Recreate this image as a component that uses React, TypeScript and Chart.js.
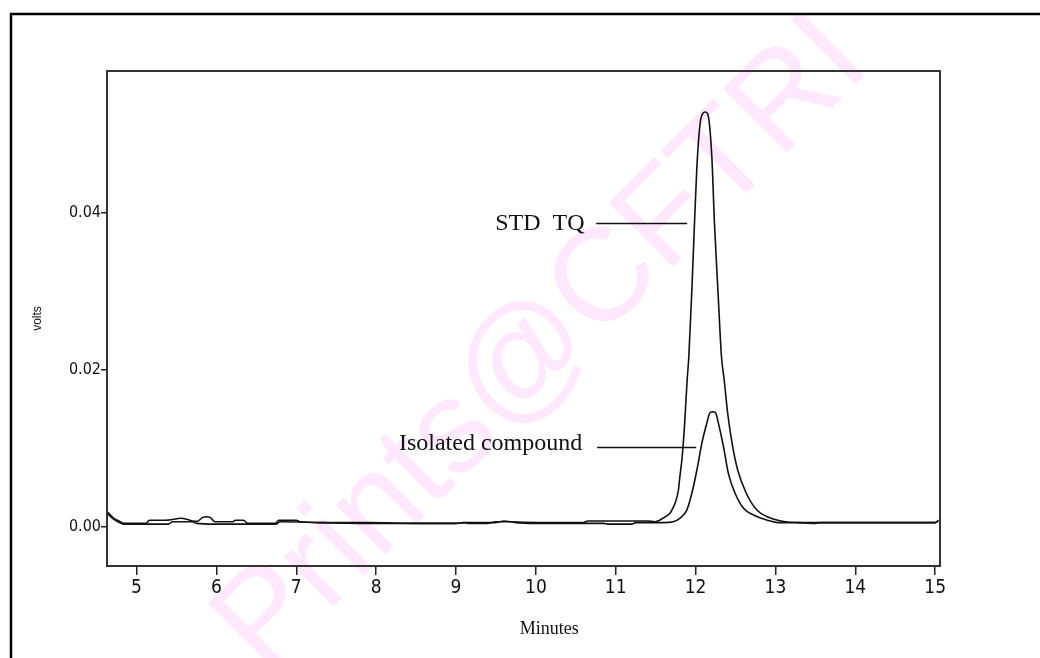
import { useEffect, useRef } from "react";
import { Chart, registerables } from "chart.js";

Chart.register(...registerables);

// ---- data (minutes / volts) ----
const stdTimes = [
  4.63, 4.67, 4.72, 4.78, 4.84, 5.0, 5.12, 5.16, 5.37, 5.45, 5.55, 5.64, 5.7, 5.76, 5.82, 5.87, 5.93, 5.98,
  6.2, 6.24, 6.34, 6.39, 6.74, 6.78, 7.0, 7.05, 7.3, 7.9, 8.5, 9.0, 9.1, 9.5, 9.6, 9.7, 10.0, 10.6, 10.65,
  10.9, 11.2, 11.4, 11.49, 11.594, 11.681, 11.703, 11.744, 11.785, 11.798, 11.832, 11.863, 11.894, 11.915,
  11.953, 11.986, 12.016, 12.057, 12.09, 12.12, 12.15, 12.203, 12.236, 12.279, 12.324, 12.358, 12.401,
  12.464, 12.527, 12.633, 12.767, 12.896, 13.121, 13.3, 13.5, 13.55, 14.0, 14.5, 15.0, 15.04,
];
const stdVolts = [
  0.0019, 0.0015, 0.001, 0.0007, 0.0004, 0.0004, 0.0004, 0.0008, 0.0008, 0.0009, 0.00105, 0.0009, 0.0007,
  0.00065, 0.0011, 0.00125, 0.0011, 0.0006, 0.0006, 0.0008, 0.0008, 0.0004, 0.0004, 0.0008, 0.0008, 0.0006,
  0.0005, 0.0005, 0.0004, 0.0004, 0.0005, 0.0005, 0.0007, 0.0006, 0.0005, 0.0005, 0.0007, 0.0007, 0.0007,
  0.0007, 0.00061, 0.00108, 0.00172, 0.0021, 0.003, 0.00466, 0.00593, 0.0089, 0.0132, 0.0187, 0.02167,
  0.0302, 0.0387, 0.0459, 0.0515, 0.0527, 0.0529, 0.0527, 0.0472, 0.0387, 0.0302, 0.02167, 0.0187, 0.01449,
  0.01019, 0.00721, 0.00428, 0.0021, 0.00125, 0.00061, 0.0005, 0.0004, 0.0005, 0.0005, 0.0005, 0.0005, 0.0008,
];

const isoTimes = [
  4.63, 4.68, 4.75, 4.84, 5.4, 5.45, 5.7, 5.75, 5.98, 6.74, 6.8, 7.3, 7.9, 9.0, 9.1, 9.15, 9.4, 9.5, 9.7,
  9.75, 10.0, 10.85, 10.9, 11.2, 11.25, 11.6, 11.72, 11.806, 11.89, 11.953, 12.016, 12.078, 12.14, 12.18,
  12.216, 12.25, 12.286, 12.349, 12.41, 12.494, 12.6, 12.725, 12.89, 13.06, 13.5, 14.0, 14.5, 15.0, 15.04,
];
const isoVolts = [
  0.0017, 0.0012, 0.0007, 0.0003, 0.0003, 0.0006, 0.0006, 0.0004, 0.0003, 0.0003, 0.0006, 0.0005, 0.0004,
  0.0004, 0.0005, 0.0004, 0.0004, 0.0006, 0.0006, 0.0005, 0.0004, 0.0004, 0.0003, 0.0003, 0.0005, 0.0005,
  0.00061, 0.00108, 0.0021, 0.00424, 0.00721, 0.01062, 0.01317, 0.01452, 0.01465, 0.01452, 0.01317, 0.01019,
  0.00679, 0.00424, 0.00232, 0.00147, 0.00083, 0.00049, 0.0005, 0.0005, 0.0005, 0.0005, 0.0007,
];

const xTickValues = [5, 6, 7, 8, 9, 10, 11, 12, 13, 14, 15];
const yTickValues = [0, 0.02, 0.04];
const xTitle = "Minutes";
const yTitle = "volts";
const watermarkText = "Prints@CFTRI";

const annotations = [
  { text: "STD  TQ", textX: 10.61, textY: 0.0387, x0: 10.755, x1: 11.894, y: 0.0388 },
  { text: "Isolated compound", textX: 10.58, textY: 0.01055, x0: 10.767, x1: 12.007, y: 0.0102 },
];

const toPoints = (xs: number[], ys: number[]) => xs.map((t, i) => ({ x: t, y: ys[i] }));

const decorPlugin = {
  id: "decor",
  beforeDraw(chart: any) {
    const { ctx, width, height } = chart;
    ctx.save();
    // watermark
    ctx.translate(width * 0.522, height * 0.525);
    ctx.rotate(-Math.PI / 4);
    ctx.fillStyle = "#ffe8fe";
    ctx.font = '132px "Liberation Sans", Arial, sans-serif';
    ctx.textAlign = "center";
    ctx.textBaseline = "middle";
    ctx.fillText(watermarkText, 0, 0);
    ctx.restore();
    // outer frame (top and left)
    ctx.save();
    ctx.strokeStyle = "#000";
    ctx.lineWidth = 2.5;
    ctx.beginPath();
    ctx.moveTo(11, height);
    ctx.lineTo(11, 14);
    ctx.lineTo(width, 14);
    ctx.stroke();
    ctx.restore();
  },
  afterDatasetsDraw(chart: any) {
    const { ctx, chartArea, scales } = chart;
    const xs = scales.x;
    const ys = scales.y;
    ctx.save();
    // plot box
    ctx.strokeStyle = "#333";
    ctx.lineWidth = 2;
    ctx.strokeRect(chartArea.left, chartArea.top, chartArea.right - chartArea.left, chartArea.bottom - chartArea.top);
    // annotations
    ctx.strokeStyle = "#111";
    ctx.lineWidth = 1.3;
    ctx.fillStyle = "#111";
    ctx.font = '24px "Liberation Serif", "Times New Roman", serif';
    ctx.textAlign = "right";
    ctx.textBaseline = "middle";
    for (const a of annotations) {
      const py = Math.round(ys.getPixelForValue(a.y)) + 0.5;
      ctx.beginPath();
      ctx.moveTo(xs.getPixelForValue(a.x0), py);
      ctx.lineTo(xs.getPixelForValue(a.x1), py);
      ctx.stroke();
      ctx.fillText(a.text, xs.getPixelForValue(a.textX), ys.getPixelForValue(a.textY));
    }
    // x title
    ctx.font = '18px "Liberation Serif", "Times New Roman", serif';
    ctx.textAlign = "center";
    ctx.fillText(xTitle, chartArea.left + (chartArea.right - chartArea.left) * 0.531, 629);
    ctx.restore();
  },
};

export default function App() {
  const ref = useRef<HTMLCanvasElement | null>(null);
  useEffect(() => {
    if (!ref.current) return;
    const chart = new Chart(ref.current, {
      type: "line",
      data: {
        datasets: [
          {
            label: "STD TQ",
            data: toPoints(stdTimes, stdVolts),
            borderColor: "#111",
            borderWidth: 1.6,
            pointRadius: 0,
            cubicInterpolationMode: "monotone",
            fill: false,
          },
          {
            label: "Isolated compound",
            data: toPoints(isoTimes, isoVolts),
            borderColor: "#111",
            borderWidth: 1.6,
            pointRadius: 0,
            cubicInterpolationMode: "monotone",
            fill: false,
          },
        ],
      },
      options: {
        responsive: false,
        animation: false,
        layout: { padding: { left: 0, top: 71, right: 100, bottom: 0 } },
        plugins: { legend: { display: false }, tooltip: { enabled: false } },
        scales: {
          x: {
            type: "linear",
            min: 4.63,
            max: 15.06,
            afterFit: (s: any) => {
              s.height = 92;
            },
            afterBuildTicks: (s: any) => {
              s.ticks = xTickValues.map((v) => ({ value: v }));
            },
            grid: { drawOnChartArea: false, drawTicks: true, tickLength: 9, color: "#222", lineWidth: 1.5 },
            border: { display: false },
            ticks: {
              color: "#111",
              padding: 2,
              maxRotation: 0,
              font: { family: '"Liberation Sans Narrow", "Arial Narrow", "DejaVu Sans Condensed", sans-serif', size: 19 },
              callback: (v: any) => String(v),
            },
            title: { display: false, text: xTitle },
          },
          y: {
            type: "linear",
            min: -0.00504,
            max: 0.05814,
            afterFit: (s: any) => {
              s.width = 107;
            },
            afterBuildTicks: (s: any) => {
              s.ticks = yTickValues.map((v) => ({ value: v }));
            },
            grid: { drawOnChartArea: false, drawTicks: true, tickLength: 6, color: "#222", lineWidth: 1.5 },
            border: { display: false },
            ticks: {
              color: "#111",
              padding: 0,
              font: { family: '"Liberation Sans Narrow", "Arial Narrow", "DejaVu Sans Condensed", sans-serif', size: 16 },
              callback: (v: any) => Number(v).toFixed(2),
            },
            title: {
              display: true,
              text: yTitle,
              color: "#111",
              padding: { top: 30, bottom: 0 },
              font: { family: '"Liberation Sans", Arial, sans-serif', size: 12 },
            },
          },
        },
      },
      plugins: [decorPlugin],
    });
    return () => chart.destroy();
  }, []);
  return (
    <div style={{ position: "fixed", left: 0, top: 0, width: 1040, height: 658, background: "#fff" }}>
      <canvas ref={ref} width={1040} height={658} style={{ display: "block" }} />
    </div>
  );
}
